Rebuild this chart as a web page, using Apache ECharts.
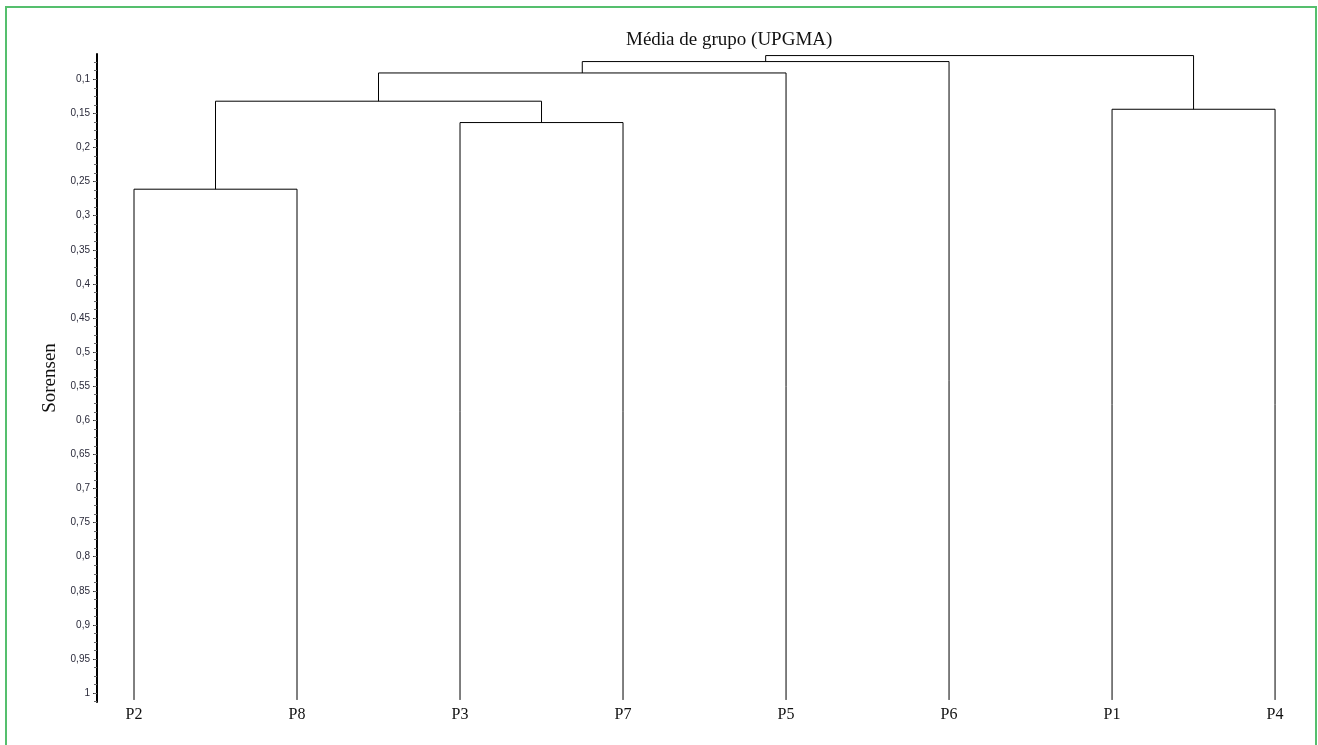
<!DOCTYPE html>
<html>
<head>
<meta charset="utf-8">
<script src="https://cdn.jsdelivr.net/npm/echarts@6/dist/echarts.min.js"></script>
<style>
  html, body { margin: 0; padding: 0; background: #fff; }
  #frame { position: absolute; left: 5px; top: 6px; width: 1308px; height: 800px;
           border: 2px solid #55bf6d; border-bottom: none; pointer-events: none; }
  #chart { width: 1318px; height: 745px; }
</style>
</head>
<body>
<div id="chart"></div>
<div id="frame"></div>
<script>
// folhas do dendrograma (ordem no eixo x)
const leaves = ['P2', 'P8', 'P3', 'P7', 'P5', 'P6', 'P1', 'P4'];
// fusões: [no A, no B, altura Sorensen]; nos 0-7 = folhas, 8+ = grupos criados
const merges = [
  [0, 1, 0.2612],
  [2, 3, 0.1635],
  [8, 9, 0.1322],
  [10, 4, 0.0908],
  [11, 5, 0.0741],
  [6, 7, 0.144],
  [12, 13, 0.0653]
];
const leafBase = 1.01;
const yTicks = [0.1, 0.15, 0.2, 0.25, 0.3, 0.35, 0.4, 0.45, 0.5, 0.55, 0.6, 0.65, 0.7, 0.75, 0.8, 0.85, 0.9, 0.95, 1];

// posições dos nos
const nodeX = leaves.map((_, i) => i);
const nodeY = leaves.map(() => leafBase);
const links = [];
merges.forEach(m => {
  const [a, b, h] = m;
  links.push([nodeX[a], nodeY[a], nodeX[b], nodeY[b], h]);
  nodeX.push((nodeX[a] + nodeX[b]) / 2);
  nodeY.push(h);
});

const minorTicks = [];
for (let k = 0; k <= 76; k++) {
  const v = Math.round((0.0625 + k * 0.0125) * 10000) / 10000;
  if (v <= 1.0125) minorTicks.push(v);
}

const chart = echarts.init(document.getElementById('chart'));
chart.setOption({
  animation: false,
  title: {
    text: 'Média de grupo (UPGMA)',
    left: 621, top: 26,
    textStyle: { fontFamily: 'Liberation Serif', fontSize: 19, fontWeight: 'normal', color: '#111' }
  },
  grid: { left: 97, right: 18, top: 54, bottom: 43 },
  xAxis: {
    type: 'value', min: -0.227, max: 7.153,
    axisLine: { show: false }, axisTick: { show: false }, splitLine: { show: false },
    axisLabel: {
      customValues: nodeX.slice(0, leaves.length),
      formatter: v => leaves[Math.round(v)],
      margin: 5,
      fontFamily: 'Liberation Serif', fontSize: 16, color: '#111'
    }
  },
  yAxis: [{
    type: 'value', inverse: true, min: 0.063, max: 1.013, position: 'left', offset: 0,
    name: 'Sorensen', nameLocation: 'middle', nameRotate: 90, nameGap: 34,
    nameTextStyle: { fontFamily: 'Liberation Serif', fontSize: 19, color: '#111' },
    axisLine: { show: true, onZero: false, lineStyle: { color: '#000', width: 2 } },
    axisTick: { show: true, customValues: yTicks, length: 4, lineStyle: { color: '#333' } },
    splitLine: { show: false },
    axisLabel: {
      customValues: yTicks,
      formatter: v => String(v).replace('.', ','),
      margin: 7,
      fontFamily: 'Liberation Sans', fontSize: 10, color: '#2a2a3a'
    }
  }, {
    type: 'value', inverse: true, min: 0.063, max: 1.013, position: 'left', offset: 0,
    axisLine: { show: false, onZero: false }, splitLine: { show: false }, axisLabel: { show: false },
    axisTick: { show: true, customValues: minorTicks, length: 3, lineStyle: { color: '#666' } }
  }],
  series: [{
    type: 'custom',
    data: links,
    renderItem: (params, api) => {
      const p1 = api.coord([api.value(0), api.value(1)]);
      const p2 = api.coord([api.value(0), api.value(4)]);
      const p3 = api.coord([api.value(2), api.value(4)]);
      const p4 = api.coord([api.value(2), api.value(3)]);
      return {
        type: 'polyline',
        shape: { points: [p1, p2, p3, p4] },
        style: { stroke: '#000', lineWidth: 1, fill: 'none' }
      };
    }
  }]
});
</script>
</body>
</html>
